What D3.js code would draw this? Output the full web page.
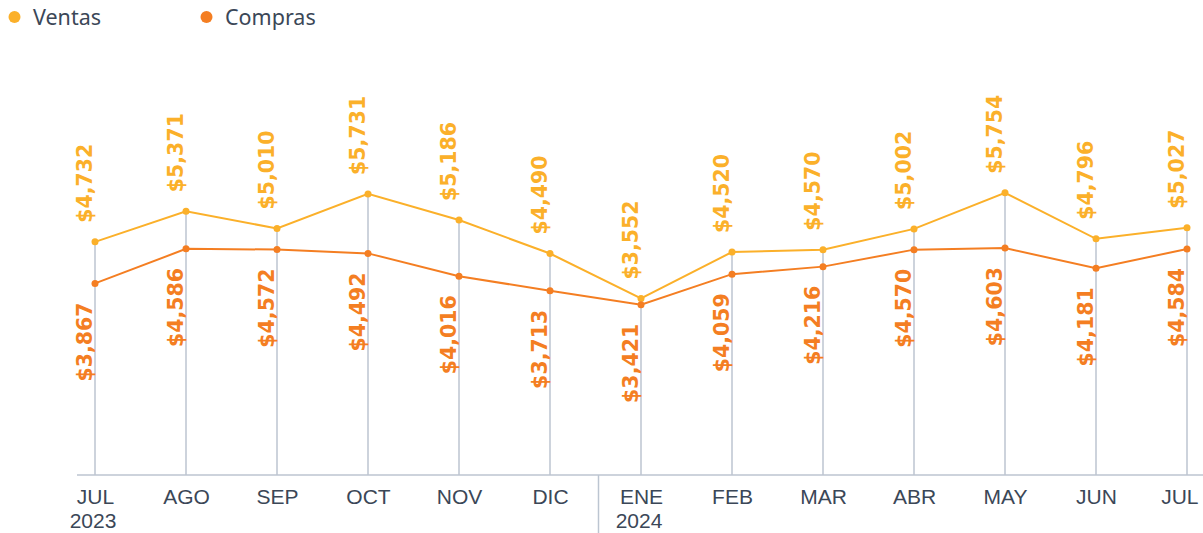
<!DOCTYPE html>
<html><head><meta charset="utf-8">
<script src="https://cdn.jsdelivr.net/npm/d3@7/dist/d3.min.js"></script>
<style>body{margin:0;background:#fff}svg{display:block}</style>
</head><body>
<svg id="c" width="1203" height="533"></svg>
<script>
const months = ["JUL","AGO","SEP","OCT","NOV","DIC","ENE","FEB","MAR","ABR","MAY","JUN","JUL"];
const years = ["2023","","","","","","2024","","","","","",""];
const ventas = [4732,5371,5010,5731,5186,4490,3552,4520,4570,5002,5754,4796,5027];
const compras = [3867,4586,4572,4492,4016,3713,3421,4059,4216,4570,4603,4181,4584];
const seriesNames = ["Ventas","Compras"];
const seriesColors = ["#FBB02A","#F47E22"];

const W = 1203, H = 533;
const svg = d3.select("#c");
const x = d3.scalePoint().domain(d3.range(months.length)).range([95,1187]);
const y = d3.scaleLinear().domain([0,6000]).range([469,181]);
const baseY = 475;
const fmt = d3.format("$,");
const axisColor = "#bcc5d1";
const textColor = "#3b4757";
const labelFont = "'DejaVu Sans', sans-serif";
const axisFont = "'Liberation Sans', Arial, sans-serif";
const legendFont = "'Noto Sans', sans-serif";

// drop lines
svg.append("g").selectAll("line").data(months).join("line")
  .attr("x1",(d,i)=>x(i)).attr("x2",(d,i)=>x(i))
  .attr("y1",(d,i)=>y(Math.max(ventas[i],compras[i])))
  .attr("y2",baseY)
  .attr("stroke",axisColor).attr("stroke-width",1.5);

// baseline
svg.append("line").attr("x1",77).attr("x2",W).attr("y1",baseY).attr("y2",baseY)
  .attr("stroke",axisColor).attr("stroke-width",1.5);

// year separator
const sepX = (x(5)+x(6))/2 + 3;
svg.append("line").attr("x1",sepX).attr("x2",sepX).attr("y1",baseY).attr("y2",H)
  .attr("stroke",axisColor).attr("stroke-width",1.5);

// x axis (months)
const axis = d3.axisBottom(x).tickSize(0).tickPadding(0).tickFormat(i=>months[i]);
const gx = svg.append("g").attr("transform",`translate(0,${baseY})`).call(axis);
gx.select(".domain").remove();
gx.selectAll("text").attr("y",29).attr("dy",null)
  .attr("fill",textColor).style("font-family",axisFont).style("font-size","21px");
// keep last label inside
gx.selectAll(".tick").each(function(i){
  const b = this.getBBox();
  const right = x(i) + b.x + b.width;
  if (right > W - 5) d3.select(this).select("text").attr("transform",`translate(${W-5-right},0)`);
});
// years (second line)
svg.append("g").selectAll("text").data(years.map((t,i)=>({t,i})).filter(d=>d.t)).join("text")
  .attr("x",d=>x(d.i)-2).attr("y",baseY+53).attr("text-anchor","middle")
  .attr("fill",textColor).style("font-family",axisFont).style("font-size","21px")
  .text(d=>d.t);

// series
const series = [ventas, compras];
const line = d3.line().x((d,i)=>x(i)).y(d=>y(d));
series.forEach((vals,s)=>{
  const g = svg.append("g");
  g.append("path").datum(vals).attr("d",line).attr("fill","none")
    .attr("stroke",seriesColors[s]).attr("stroke-width",2);
  g.selectAll("circle").data(vals).join("circle")
    .attr("cx",(d,i)=>x(i)).attr("cy",d=>y(d)).attr("r",3.5).attr("fill",seriesColors[s]);
  g.selectAll("text").data(vals).join("text")
    .attr("transform",(d,i)=> s===0
      ? `translate(${x(i)-3},${y(d)-19}) rotate(-90)`
      : `translate(${x(i)-3},${y(d)+19}) rotate(-90)`)
    .attr("text-anchor", s===0 ? "start" : "end")
    .attr("fill",seriesColors[s])
    .style("font-family",labelFont).style("font-weight","bold").style("font-size","20.5px")
    .text(d=>fmt(d));
});

// legend
const lg = svg.append("g");
seriesNames.forEach((n,i)=>{
  const gx0 = 14.5 + i*192;
  lg.append("circle").attr("cx",gx0).attr("cy",17).attr("r",6).attr("fill",seriesColors[i]);
  lg.append("text").attr("x",gx0+18.5).attr("y",25).text(n)
    .attr("fill",textColor).style("font-family",legendFont).style("font-size","21.5px");
});
</script>
</body></html>
